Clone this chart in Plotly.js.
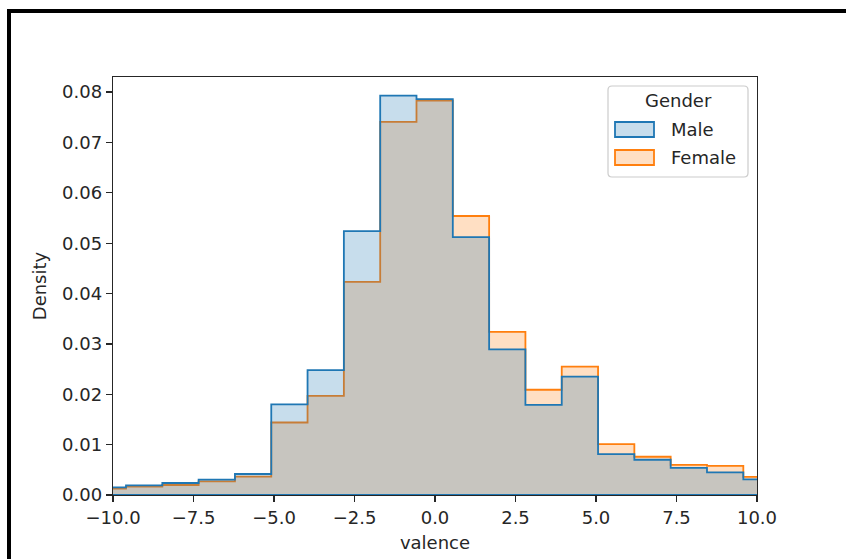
<!DOCTYPE html>
<html>
<head>
<meta charset="utf-8">
<script src="https://cdn.plot.ly/plotly-3.0.1.min.js"></script>
<style>
  html, body { margin: 0; padding: 0; background: #ffffff; overflow: hidden; }
  #chart { width: 846px; height: 559px; position: absolute; left: 0; top: 0; }
  #frame { position: absolute; left: 7px; top: 9px; width: 900px; height: 900px;
           border-left: 4px solid #000; border-top: 4px solid #000; pointer-events: none; }
</style>
</head>
<body>
<div id="chart"></div>
<div id="frame"></div>
<script>
// Histogram bin edges (valence)
const binEdges = [-10.724, -9.596, -8.468, -7.341, -6.213, -5.085, -3.958, -2.830, -1.702, -0.575,
                  0.553, 1.681, 2.808, 3.936, 5.064, 6.191, 7.319, 8.447, 9.575, 10.702];
// Density per bin
const maleDensity = [0.00153, 0.00192, 0.00238, 0.00305, 0.00417, 0.0180, 0.0248, 0.0524, 0.0793,
                     0.0786, 0.0512, 0.0289, 0.0179, 0.0235, 0.0081, 0.0070, 0.0054, 0.0045, 0.0031];
const femaleDensity = [0.00125, 0.00165, 0.00199, 0.00271, 0.00364, 0.0144, 0.0197, 0.0423, 0.0741,
                       0.0783, 0.0554, 0.0324, 0.0209, 0.0255, 0.0101, 0.0076, 0.0060, 0.0058, 0.0036];
const xTicks = [-10, -7.5, -5, -2.5, 0, 2.5, 5, 7.5, 10];
const yTicks = [0, 0.01, 0.02, 0.03, 0.04, 0.05, 0.06, 0.07, 0.08];
const groups = ["Male", "Female"];
const legendTitle = "Gender";

const BLUE = "#1f77b4", ORANGE = "#ff7f0e";
const BLUE_FILL = "rgba(31,119,180,0.25)", ORANGE_FILL = "rgba(255,127,14,0.25)";

function stepPath(edges, vals) {
  const x = [edges[0]], y = [0];
  for (let i = 0; i < vals.length; i++) { x.push(edges[i]); y.push(vals[i]); }
  x.push(edges[edges.length - 1]); y.push(0);
  x.push(edges[0]); y.push(0);
  return {x, y};
}

const fp = stepPath(binEdges, femaleDensity);
const mp = stepPath(binEdges, maleDensity);

const traces = [
  { x: fp.x, y: fp.y, type: "scatter", mode: "lines", name: groups[1],
    line: {shape: "hv", color: ORANGE, width: 1.8}, fill: "toself", fillcolor: ORANGE_FILL,
    showlegend: false, hoverinfo: "skip" },
  { x: mp.x, y: mp.y, type: "scatter", mode: "lines", name: groups[0],
    line: {shape: "hv", color: BLUE, width: 1.8}, fill: "toself", fillcolor: BLUE_FILL,
    showlegend: false, hoverinfo: "skip" }
];

// plot area in px
const L = 113, R = 757, T = 77, B = 495;
const W = R - L, H = B - T;
const px = x => (x - L) / W;
const py = y => (B - y) / H;

function roundRect(x0, y0, x1, y1, r) {
  const rx = r / W, ry = r / H;
  const a = px(x0), b = px(x1), top = py(y0), bot = py(y1);
  return `M${a + rx},${top} L${b - rx},${top} Q${b},${top} ${b},${top - ry} ` +
         `L${b},${bot + ry} Q${b},${bot} ${b - rx},${bot} L${a + rx},${bot} ` +
         `Q${a},${bot} ${a},${bot + ry} L${a},${top - ry} Q${a},${top} ${a + rx},${top} Z`;
}

const shapes = [
  { type: "path", xref: "paper", yref: "paper", path: roundRect(608, 86, 748, 177, 4),
    fillcolor: "rgba(255,255,255,0.8)", line: {color: "#cccccc", width: 1.2} },
  { type: "rect", xref: "paper", yref: "paper", x0: px(615), x1: px(654), y0: py(122), y1: py(137),
    fillcolor: BLUE_FILL, line: {color: BLUE, width: 1.8} },
  { type: "rect", xref: "paper", yref: "paper", x0: px(615), x1: px(654), y0: py(150), y1: py(165),
    fillcolor: ORANGE_FILL, line: {color: ORANGE, width: 1.8} }
];

const fontFam = "DejaVu Sans, sans-serif";
const annotations = [
  { xref: "paper", yref: "paper", x: px(678), y: py(101), text: legendTitle, showarrow: false,
    xanchor: "center", yanchor: "middle", font: {family: fontFam, size: 18, color: "#262626"} },
  { xref: "paper", yref: "paper", x: px(669), y: py(129.5), text: groups[0], showarrow: false,
    xanchor: "left", yanchor: "middle", font: {family: fontFam, size: 18, color: "#262626"} },
  { xref: "paper", yref: "paper", x: px(669), y: py(157.5), text: groups[1], showarrow: false,
    xanchor: "left", yanchor: "middle", font: {family: fontFam, size: 18, color: "#262626"} }
];

const axisCommon = {
  showline: true, mirror: true, linecolor: "#262626", linewidth: 1.3,
  ticks: "outside", ticklen: 6, tickwidth: 1.3, tickcolor: "#262626",
  showgrid: false, zeroline: false, fixedrange: true,
  tickfont: {family: fontFam, size: 18, color: "#262626"}
};

const layout = {
  width: 846, height: 559,
  margin: {l: L, r: 846 - R, t: T, b: 559 - B, pad: 0},
  paper_bgcolor: "#ffffff", plot_bgcolor: "#ffffff",
  showlegend: false,
  xaxis: Object.assign({}, axisCommon, {
    range: [-10, 10], tickmode: "array", tickvals: xTicks,
    ticktext: xTicks.map(v => (v < 0 ? "\u2212" : "") + Math.abs(v).toFixed(1)),
    title: {text: "valence", font: {family: fontFam, size: 18, color: "#262626"}, standoff: 9}
  }),
  yaxis: Object.assign({}, axisCommon, {
    range: [0, 0.0830], tickmode: "array", tickvals: yTicks,
    ticktext: yTicks.map(v => v.toFixed(2)),
    title: {text: "Density", font: {family: fontFam, size: 18, color: "#262626"}, standoff: 10}
  }),
  shapes: shapes,
  annotations: annotations
};

Plotly.newPlot("chart", traces, layout, {displayModeBar: false, staticPlot: true});
</script>
</body>
</html>
